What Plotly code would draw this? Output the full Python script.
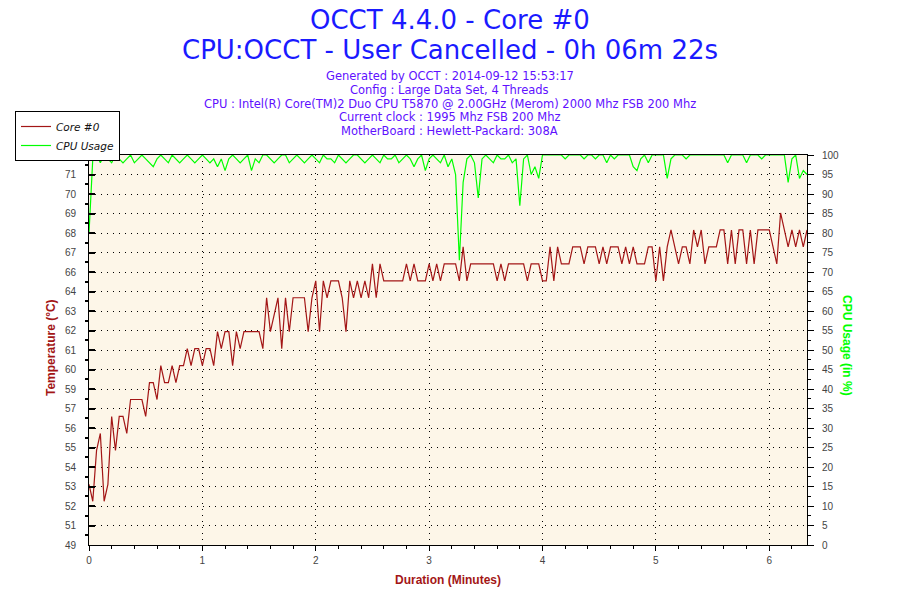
import numpy as np
import plotly.graph_objects as go

# OCCT sensor log, one reading kept every 2 seconds (0h 06m 22s run)
SAMPLE_STEP_S = 2

CORE0_TEMP = [
    # 0 - 66 s
    53, 52, 55, 56, 52, 53, 57, 55, 57, 57, 56, 58, 58, 58, 58, 57, 59, 59,
    58, 60, 59, 59, 60, 59, 60, 60, 61, 60, 61, 61, 60, 61, 61, 60,
    # 68 - 164 s
    62, 61, 62, 62, 60, 62, 61, 62, 62, 62, 62, 62, 61, 64, 62, 63, 64, 61,
    64, 62, 64, 64, 64, 64, 62, 64, 65, 62, 65, 64, 65, 65, 65, 64, 62, 65,
    64, 65, 64, 65, 64, 66, 64, 66, 65, 65, 65, 65, 65,
    # 166 - 264 s
    65, 66, 65, 66, 65, 65, 65, 66, 65, 66, 65, 66, 66, 66, 66, 65, 67, 65,
    66, 66, 66, 66, 66, 66, 66, 65, 66, 65, 66, 66, 66, 66, 66, 65, 66, 66,
    66, 65, 65, 67, 65, 67, 66, 66, 66, 67, 67, 67, 66, 67,
    # 266 - 380 s
    67, 67, 66, 67, 66, 67, 67, 67, 66, 67, 66, 67, 66, 66, 66, 67, 67, 65,
    67, 65, 67, 68, 67, 66, 67, 67, 66, 68, 67, 68, 66, 67, 67, 67, 68, 68,
    66, 68, 66, 68, 68, 66, 68, 66, 68, 68, 68, 68, 67, 66, 69, 68, 67, 68,
    67, 68, 67, 68,
]

CPU_USAGE = [
    80, 99, 100, 98, 100, 99, 98, 100, 99, 98,
    99, 100, 98, 99, 100, 99, 98, 97, 99, 100,
    99, 98, 100, 99, 98, 99, 100, 99, 98, 99,
    100, 99, 98, 99, 97, 99, 96, 99, 100, 99,
    98, 99, 100, 96, 99, 98, 100, 100, 99, 98,
    99, 100, 100, 98, 99, 100, 99, 98, 99, 100,
    99, 98, 100, 99, 99, 98, 100, 99, 98, 99,
    100, 100, 99, 98, 99, 100, 99, 98, 100, 99,
    99, 100, 98, 99, 100, 99, 97, 99, 100, 96,
    99, 100, 99, 98, 100, 97, 99, 95, 73, 93,
    99, 100, 98, 89, 99, 100, 99, 98, 100, 99,
    99, 100, 98, 99, 87, 99, 100, 95, 97, 94,
    100, 100, 100, 100, 100, 100, 99, 100, 100, 100,
    100, 99, 100, 100, 99, 100, 100, 98, 100, 99,
    100, 100, 100, 100, 97, 96, 99, 100, 98, 100,
    100, 100, 100, 94, 99, 100, 100, 100, 99, 100,
    100, 100, 100, 100, 100, 100, 100, 100, 100, 98,
    100, 100, 100, 100, 98, 100, 100, 100, 99, 100,
    100, 100, 100, 100, 100, 93, 99, 100, 94, 96,
    95,
]

TEMP_RANGE = (49.42, 72.42)
TEMP_TICK_LABELS = ["49", "51", "52", "53", "54", "55", "56", "57", "59", "60",
                    "61", "62", "63", "64", "66", "67", "68", "69", "70", "71", "72"]
CPU_TICKS = list(range(0, 101, 5))
DURATION_TICKS = [0, 1, 2, 3, 4, 5, 6]
DURATION_MAX = 6.333

TITLE_LINES = ["OCCT 4.4.0 - Core #0", "CPU:OCCT - User Cancelled - 0h 06m 22s"]
INFO_LINES = [
    "Generated by OCCT : 2014-09-12 15:53:17",
    "Config : Large Data Set, 4 Threads",
    "CPU : Intel(R) Core(TM)2 Duo CPU T5870 @ 2.00GHz (Merom) 2000 Mhz FSB 200 Mhz",
    "Current clock : 1995 Mhz FSB 200 Mhz",
    "MotherBoard : Hewlett-Packard: 308A",
]

TEMP_COLOR = "#A31616"
CPU_COLOR = "#00FF00"
TITLE_COLOR = "#1A1AFF"
INFO_COLOR = "#6010FF"
TICK_FONT = dict(family="Liberation Sans, Arial, sans-serif", size=10, color="#444")

# the page adds an 8px body margin, so the figure is a bit smaller and
# everything below is laid out in page pixels
PAGE_MARGIN = 8
FIG_W, FIG_H = 900 - PAGE_MARGIN, 600 - PAGE_MARGIN
# plot area in page pixels
PL, PR, PT, PB = 89, 807, 155, 545


def px_x(px):
    return (px - PL) / (PR - PL)


def px_y(py):
    return (PB - py) / (PB - PT)


minutes = [i * SAMPLE_STEP_S / 60 for i in range(len(CORE0_TEMP))]
temp_ticks = np.linspace(TEMP_RANGE[0], TEMP_RANGE[1], len(TEMP_TICK_LABELS))
temp_minor = (temp_ticks[:-1] + temp_ticks[1:]) / 2

fig = go.Figure()
fig.add_trace(go.Scatter(
    x=minutes, y=CORE0_TEMP, name="Core #0", mode="lines",
    line=dict(color=TEMP_COLOR, width=1.2),
))
fig.add_trace(go.Scatter(
    x=minutes, y=CPU_USAGE, name="CPU Usage", mode="lines", yaxis="y2",
    line=dict(color=CPU_COLOR, width=1.2),
))

fig.update_layout(
    width=FIG_W, height=FIG_H,
    margin=dict(l=PL - PAGE_MARGIN, r=FIG_W - (PR - PAGE_MARGIN),
                t=PT - PAGE_MARGIN, b=FIG_H - (PB - PAGE_MARGIN),
                autoexpand=False),
    paper_bgcolor="white", plot_bgcolor="#FDF6E8",
    showlegend=True,
    legend=dict(
        x=px_x(15), y=px_y(111), xanchor="left", yanchor="top",
        bgcolor="white", bordercolor="black", borderwidth=1,
        font=dict(family="DejaVu Sans, Verdana, sans-serif", size=10.5,
                  color="#111", style="italic"),
        tracegroupgap=0, itemwidth=30,
    ),
    xaxis=dict(
        range=[0, DURATION_MAX], tickvals=DURATION_TICKS,
        showline=True, linecolor="black", linewidth=1, mirror=True,
        ticks="outside", ticklen=5, tickcolor="black",
        tickfont=TICK_FONT, ticklabelstandoff=1,
        showgrid=True, gridcolor="black", gridwidth=1, griddash="1px,5px",
        zeroline=False,
        minor=dict(dtick=0.2, ticks="outside", ticklen=3, tickcolor="black",
                   showgrid=False),
    ),
    yaxis=dict(
        range=list(TEMP_RANGE), tickmode="array",
        tickvals=list(temp_ticks), ticktext=TEMP_TICK_LABELS,
        showline=True, linecolor="black", linewidth=1,
        ticks="inside", ticklen=6, tickwidth=2, tickcolor="black",
        tickfont=TICK_FONT, ticklabelstandoff=10,
        showgrid=True, gridcolor="black", gridwidth=1, griddash="1px,5px",
        zeroline=False,
        minor=dict(tickmode="array", tickvals=list(temp_minor), ticks="outside",
                   ticklen=3, tickcolor="black", showgrid=False),
    ),
    yaxis2=dict(
        range=[0, 100], tickvals=CPU_TICKS, overlaying="y", side="right",
        showline=True, linecolor="black", linewidth=1,
        ticks="outside", ticklen=6, tickcolor="black",
        tickfont=TICK_FONT, ticklabelstandoff=6,
        showgrid=False, zeroline=False,
        minor=dict(dtick=2.5, ticks="outside", ticklen=3, tickcolor="black"),
    ),
)

# title block
title_y = [20, 50]
for text, py in zip(TITLE_LINES, title_y):
    fig.add_annotation(
        text=text, xref="paper", yref="paper", x=px_x(450), y=px_y(py),
        xanchor="center", yanchor="middle", showarrow=False,
        font=dict(family="DejaVu Sans, Verdana, sans-serif", size=26, color=TITLE_COLOR),
    )
info_y = [76, 90, 104, 117, 131]
for text, py in zip(INFO_LINES, info_y):
    fig.add_annotation(
        text=text, xref="paper", yref="paper", x=px_x(450), y=px_y(py),
        xanchor="center", yanchor="middle", showarrow=False,
        font=dict(family="DejaVu Sans, Verdana, sans-serif", size=11.5, color=INFO_COLOR),
    )

# axis titles
axis_font = dict(family="Liberation Sans, Arial, sans-serif", size=12, weight="bold")
fig.add_annotation(
    text="Temperature (°C)", xref="paper", yref="paper", x=px_x(51), y=px_y(348),
    textangle=-90, showarrow=False, xanchor="center", yanchor="middle",
    font=dict(axis_font, color=TEMP_COLOR),
)
fig.add_annotation(
    text="CPU Usage (in %)", xref="paper", yref="paper", x=px_x(847), y=px_y(345),
    textangle=90, showarrow=False, xanchor="center", yanchor="middle",
    font=dict(axis_font, color=CPU_COLOR),
)
fig.add_annotation(
    text="Duration (Minutes)", xref="paper", yref="paper", x=px_x(448), y=px_y(580),
    showarrow=False, xanchor="center", yanchor="middle",
    font=dict(axis_font, color=TEMP_COLOR),
)

fig.write_html("out.html")
